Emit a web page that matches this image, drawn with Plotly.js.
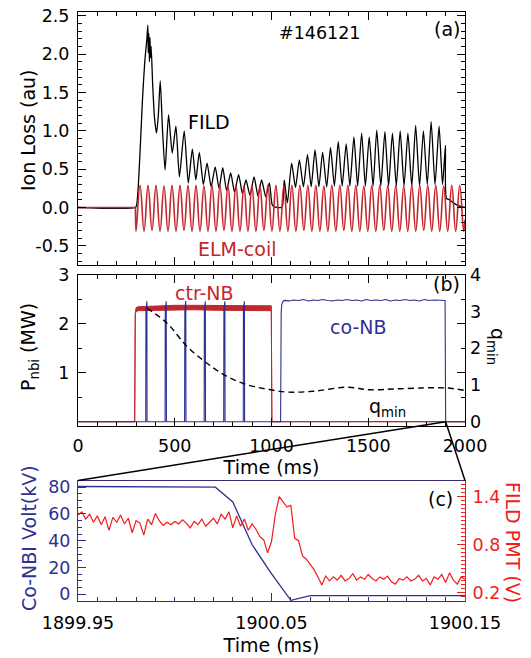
<!DOCTYPE html>
<html><head><meta charset="utf-8">
<script src="https://cdn.plot.ly/plotly-3.0.1.min.js"></script>
<style>html,body{margin:0;padding:0;background:#fff}#chart{width:531px;height:658px}</style>
</head><body><div id="chart"></div>
<script>
// ---------- Panel (a): ion loss ----------
const fildT = [0,296,303,312,322,333,345,356,361,363,366,369,372,375,378,386,396,406,415,425,437,450,468,487,506,524,549,570,591,609,627,648,667,688,709,729,748,768,789,809,830,850,868,889,910,930,949,970,989,1003,1012,1050,1057,1066,1082,1104,1124,1144,1165,1186,1205,1225,1245,1264,1285,1305,1325,1345,1365,1386,1405,1426,1445,1466,1485,1505,1525,1544,1565,1586,1605,1625,1645,1665,1685,1705,1725,1745,1765,1785,1805,1825,1845,1866,1884,1899,1904,1920,1940,1960,1980,2000];
const fildV = [0,0,0.03,0.3,0.8,1.4,1.9,2.2,2.38,2.02,2.27,1.9,2.22,1.95,2.1,1.6,1.15,0.97,1.2,1.65,1.0,0.49,1.21,0.71,1.06,0.40,1.0,0.32,0.76,0.36,0.72,0.30,0.58,0.27,0.53,0.25,0.52,0.22,0.45,0.20,0.43,0.18,0.36,0.16,0.40,0.15,0.36,0.14,0.32,0.04,0.01,0.0,0.02,0.36,0.06,0.58,0.26,0.62,0.27,0.69,0.27,0.75,0.27,0.72,0.27,0.78,0.28,0.86,0.28,0.83,0.28,0.92,0.28,0.97,0.28,0.92,0.28,1.01,0.28,0.99,0.28,0.97,0.28,1.0,0.28,0.97,0.28,1.07,0.28,1.0,0.30,1.12,0.30,1.06,0.30,0.81,0.12,0.10,0.06,0.03,0.01,0.0];
const coilT = [0,297,300,320.7,341.3,362,382.6,403.3,423.9,444.6,465.2,485.9,506.5,527.2,547.8,568.5,589.1,609.8,630.4,651.1,671.7,692.4,713,733.7,754.3,775,795.6,816.3,836.9,857.6,878.2,898.9,919.5,940.2,960.8,981.5,1002.1,1022.8,1043.4,1064.1,1084.7,1105.4,1126,1146.7,1167.3,1188,1208.6,1229.3,1249.9,1270.6,1291.2,1311.9,1332.5,1353.2,1373.8,1394.5,1415.1,1435.8,1456.4,1477.1,1497.7,1518.4,1539,1559.7,1580.3,1601,1621.6,1642.3,1662.9,1683.6,1704.2,1724.9,1745.5,1766.2,1786.8,1807.5,1828.1,1848.8,1869.4,1890.1,1910.7,1931.4,1952,1972.7,1993.3,2000];
const coilV = [0,0,-0.31,0.29,-0.31,0.29,-0.30,0.29,-0.31,0.28,-0.31,0.29,-0.31,0.29,-0.30,0.29,-0.31,0.29,-0.31,0.28,-0.31,0.29,-0.31,0.29,-0.30,0.29,-0.31,0.29,-0.31,0.28,-0.31,0.29,-0.31,0.29,-0.30,0.29,-0.31,0.29,-0.31,0.28,-0.31,0.29,-0.31,0.29,-0.30,0.29,-0.31,0.29,-0.31,0.28,-0.31,0.29,-0.31,0.29,-0.30,0.29,-0.31,0.29,-0.31,0.28,-0.31,0.29,-0.31,0.29,-0.30,0.29,-0.31,0.29,-0.31,0.28,-0.31,0.29,-0.31,0.29,-0.30,0.29,-0.31,0.29,-0.31,0.28,-0.31,0.29,-0.31,0.29,-0.31,-0.16];
const ionTickVals = [-0.5,0,0.5,1,1.5,2,2.5];
const ionTickText = ['-0.5','0.0','0.5','1.0','1.5','2.0','2.5'];

// ---------- Panel (b): beam power and q_min ----------
const ctrT  = [0,293,296,300,310,400,500,600,700,800,900,995,999,1002,2000];
const ctrLo = [0,0,2.20,2.25,2.27,2.28,2.28,2.29,2.28,2.28,2.28,2.28,2.27,0,0];
const ctrHi = [0,0,2.20,2.33,2.35,2.37,2.38,2.38,2.38,2.38,2.38,2.38,2.37,0,0];
const coT = [0,350,351,356,357,450,451,456,457,551,552,557,558,652,653,658,659,753,754,759,760,854,855,860,861,1047,1050,1053,1058,1065,1090,1115,1140,1165,1190,1215,1240,1265,1290,1315,1340,1365,1390,1415,1440,1465,1490,1515,1540,1565,1590,1615,1640,1665,1690,1715,1740,1765,1790,1815,1840,1865,1897,1900,2000];
const coV = [0,0,2.28,2.46,0,0,2.28,2.46,0,0,2.28,2.47,0,0,2.28,2.46,0,0,2.28,2.46,0,0,2.28,2.46,0,0,2.22,2.40,2.45,2.48,2.47,2.49,2.48,2.50,2.47,2.49,2.48,2.50,2.48,2.47,2.49,2.48,2.50,2.48,2.49,2.47,2.50,2.48,2.49,2.48,2.50,2.47,2.49,2.48,2.50,2.48,2.49,2.47,2.50,2.48,2.49,2.48,2.48,0,0];
const qT = [355,458,562,665,768,872,975,1078,1216,1389,1509,1664,1905,2000];
const qV = [3.10,2.70,2.06,1.60,1.24,1.01,0.89,0.81,0.83,0.94,0.87,0.90,0.92,0.85];

// ---------- Panel (c): zoom near 1900 ms ----------
const voltT = [1899.95,1900.00,1900.021,1900.030,1900.040,1900.0497,1900.060,1900.070,1900.15];
const voltV = [80.5,80.2,80,69,37,16,-4.5,-1,-1];
const pmtT = [1899.950,1899.952,1899.954,1899.956,1899.958,1899.960,1899.962,1899.964,1899.966,1899.968,1899.970,1899.972,1899.974,1899.976,1899.978,1899.980,1899.982,1899.984,1899.986,1899.988,1899.990,1899.992,1899.994,1899.996,1899.998,1900.000,1900.002,1900.004,1900.006,1900.008,1900.010,1900.012,1900.014,1900.016,1900.018,1900.020,1900.022,1900.024,1900.026,1900.028,1900.030,1900.032,1900.034,1900.036,1900.038,1900.040,1900.042,1900.044,1900.046,1900.048,1900.050,1900.052,1900.054,1900.056,1900.058,1900.060,1900.062,1900.064,1900.066,1900.068,1900.070,1900.072,1900.074,1900.076,1900.078,1900.080,1900.082,1900.084,1900.086,1900.088,1900.090,1900.092,1900.094,1900.096,1900.098,1900.100,1900.102,1900.104,1900.106,1900.108,1900.110,1900.112,1900.114,1900.116,1900.118,1900.120,1900.122,1900.124,1900.126,1900.128,1900.130,1900.132,1900.134,1900.136,1900.138,1900.140,1900.142,1900.144,1900.146,1900.148,1900.150];
const pmtV = [1.17,1.21,1.12,1.18,1.08,1.16,1.05,1.15,0.98,1.14,1.08,1.17,1.06,1.13,0.95,1.10,1.07,0.92,1.12,1.05,1.19,1.10,1.04,1.08,1.05,1.09,1.06,1.11,1.07,1.01,1.09,1.05,1.12,1.03,1.08,1.13,1.06,1.18,1.12,1.21,1.01,1.16,1.03,1.12,0.98,1.06,0.99,0.90,0.86,0.70,0.84,1.18,1.40,1.33,1.27,1.29,0.88,0.85,0.66,0.62,0.55,0.49,0.40,0.30,0.41,0.35,0.40,0.36,0.42,0.35,0.38,0.44,0.36,0.40,0.37,0.43,0.38,0.35,0.40,0.37,0.41,0.34,0.31,0.38,0.36,0.40,0.35,0.37,0.42,0.35,0.38,0.30,0.40,0.37,0.43,0.33,0.45,0.36,0.31,0.40,0.37];
const zoomTimeTicks = [1899.95,1900.05,1900.15];
const zoomTimeText = ['1899.95','1900.05','1900.15'];

// ---------- colours / geometry ----------
const RED = '#c1272d', NAVY = '#2e3192', BRIGHT = '#f21c1c', PURPLE = '#3b2a6e';
const W = 531, H = 658, ML = 78, MR = 66, MT = 12, MB = 57;
function dom(top, bot){ const h = H - MT - MB; return [(H - MB - bot)/h, (H - MB - top)/h]; }
function pxX(px){ return (px - ML)/(W - ML - MR); }
function pxY(py){ return (H - MB - py)/(H - MT - MB); }
const domA = dom(12, 265), domB = dom(275, 426), domC = dom(480.5, 601);
const FAM = 'DejaVu Sans, Liberation Sans, Arial, sans-serif';
const FONT = {family: FAM, size: 17.5, color: '#000'};   // tick labels
const TFONT = {family: FAM, size: 19, color: '#000'};    // titles and labels
const rangeA = [-0.75, 2.55], rangeB = [-0.088, 3.0], rangeQ = [-0.117, 4.0];
const rangeT = [0, 2000];
function col(c, base){ return Object.assign({}, base || TFONT, {color: c}); }
function sideTitle(text, x, y, angle, color){
  return {xref: 'paper', yref: 'paper', x: pxX(x), y: pxY(y), xanchor: 'center', yanchor: 'middle',
    text: text, textangle: angle, showarrow: false, font: col(color)};
}
function label(text, xref, yref, x, y, color, anchor, base){
  return {xref: xref, yref: yref, x: x, y: y, text: text, showarrow: false, xanchor: anchor || 'center',
    font: col(color, base)};
}

// the ELM-coil record: flat part before the coil turns on, then the oscillation
const coilOn = 1;
const traces = [
  {x: fildT, y: fildV, xaxis: 'x', yaxis: 'y', mode: 'lines', line: {color: '#000', width: 1.3, shape: 'spline', smoothing: 0.6}},
  {x: coilT.slice(0, coilOn + 1), y: coilV.slice(0, coilOn + 1), xaxis: 'x', yaxis: 'y', mode: 'lines', line: {color: RED, width: 1.6}},
  {x: coilT.slice(coilOn), y: coilV.slice(coilOn), xaxis: 'x', yaxis: 'y', mode: 'lines', line: {color: RED, width: 1.6, shape: 'spline', smoothing: 1.2}},
  {x: ctrT, y: ctrLo, xaxis: 'x2', yaxis: 'y2', mode: 'lines', line: {color: RED, width: 1}},
  {x: ctrT, y: ctrHi, xaxis: 'x2', yaxis: 'y2', mode: 'lines', line: {color: RED, width: 1}, fill: 'tonexty', fillcolor: RED},
  {x: coT, y: coV, xaxis: 'x2', yaxis: 'y2', mode: 'lines', line: {color: NAVY, width: 1.1}},
  {x: qT, y: qV, xaxis: 'x2', yaxis: 'y3', mode: 'lines', line: {color: '#000', width: 1.4, dash: '6px,4px', shape: 'spline', smoothing: 1}},
  {x: pmtT, y: pmtV, xaxis: 'x3', yaxis: 'y5', mode: 'lines', line: {color: BRIGHT, width: 1.2}},
  {x: voltT, y: voltV, xaxis: 'x3', yaxis: 'y4', mode: 'lines', line: {color: NAVY, width: 1.3}}
];

const baseAx = {showgrid: false, zeroline: false, showline: true, linecolor: '#000', linewidth: 1,
  ticks: 'inside', tickcolor: '#000', ticklen: 8, tickwidth: 1, tickfont: FONT, automargin: false};

const layout = {
  width: W, height: H, margin: {l: ML, r: MR, t: MT, b: MB},
  paper_bgcolor: '#fff', plot_bgcolor: '#fff', showlegend: false, font: FONT,
  xaxis: Object.assign({}, baseAx, {domain: [0,1], anchor: 'y', range: rangeT, dtick: 500, tick0: 0,
    showticklabels: false, mirror: 'ticks', minor: {dtick: 100, ticklen: 4, ticks: 'inside', tickcolor: '#000'}}),
  yaxis: Object.assign({}, baseAx, {domain: domA, anchor: 'x', range: rangeA, tickvals: ionTickVals, ticktext: ionTickText,
    mirror: 'ticks', ticklabelstandoff: 4, minor: {dtick: 0.1, tick0: 0, ticklen: 4, ticks: 'inside', tickcolor: '#000'}}),
  xaxis2: Object.assign({}, baseAx, {domain: [0,1], anchor: 'y2', range: rangeT, dtick: 500, tick0: 0,
    mirror: 'ticks', ticklabelstandoff: 4, minor: {dtick: 100, ticklen: 4, ticks: 'inside', tickcolor: '#000'},
    title: {text: 'Time (ms)', font: TFONT, standoff: 2}}),
  yaxis2: Object.assign({}, baseAx, {domain: domB, anchor: 'x2', range: rangeB, tickvals: [1,2,3],
    mirror: 'ticks', ticklabelstandoff: 4, minor: {tickvals: [0.5,1.5,2.5], ticklen: 4, ticks: 'inside', tickcolor: '#000'}}),
  yaxis3: {overlaying: 'y2', side: 'right', anchor: 'x2', range: rangeQ, tickvals: [0,1,2,3,4],
    showgrid: false, zeroline: false, showline: false, ticks: '', tickfont: FONT, ticklabelstandoff: 4},
  xaxis3: Object.assign({}, baseAx, {domain: [0,1], anchor: 'y4', range: [1899.95, 1900.15],
    tickvals: zoomTimeTicks, ticktext: zoomTimeText, linecolor: PURPLE, tickcolor: PURPLE, mirror: true,
    ticklabelstandoff: 6,
    minor: {dtick: 0.01, tick0: 1899.95, ticklen: 4, ticks: 'inside', tickcolor: PURPLE},
    title: {text: 'Time (ms)', font: TFONT, standoff: 6}}),
  yaxis4: Object.assign({}, baseAx, {domain: domC, anchor: 'x3', range: [-5, 85], dtick: 20, tick0: 0,
    linecolor: NAVY, tickcolor: NAVY, tickfont: col(NAVY, FONT), ticklabelstandoff: 3,
    minor: {dtick: 5, tick0: 0, ticklen: 4, ticks: 'inside', tickcolor: NAVY}}),
  yaxis5: Object.assign({}, baseAx, {overlaying: 'y4', side: 'right', anchor: 'x3', range: [0.1, 1.6],
    tickvals: [0.2, 0.8, 1.4], ticktext: ['0.2','0.8','1.4'], linecolor: BRIGHT, tickcolor: BRIGHT,
    tickfont: col(BRIGHT, FONT), ticklabelstandoff: 3,
    minor: {dtick: 0.05, tick0: 0.1, ticklen: 4, ticks: 'inside', tickcolor: BRIGHT}}),
  annotations: [
    sideTitle('Ion Loss (au)', 28, 130, -90, '#000'),
    sideTitle('P<sub>nbi</sub> (MW)', 30, 347, -90, '#000'),
    sideTitle('q<sub>min</sub>', 497, 346, 90, '#000'),
    sideTitle('Co-NBI Volt(kV)', 29, 538, -90, NAVY),
    sideTitle('FILD PMT (V)', 513, 542, 90, BRIGHT),
    label('#146121', 'x', 'y', 1248, 2.27, '#000', 'center', FONT),
    label('(a)', 'x', 'y', 1985, 2.33, '#000', 'right'),
    label('FILD', 'x', 'y', 677, 1.12, '#000'),
    label('ELM-coil', 'x', 'y', 824, -0.54, RED),
    label('(b)', 'x2', 'y2', 1984, 2.82, '#000', 'right'),
    label('ctr-NB', 'x2', 'y2', 656, 2.63, RED),
    label('co-NB', 'x2', 'y2', 1449, 1.93, NAVY),
    label('q<sub>min</sub>', 'x2', 'y2', 1602, 0.30, '#000'),
    label('(c)', 'x3', 'y4', 1900.1448, 71, '#000', 'right')
  ],
  shapes: (function(){
    const tZoom = 1900;
    const px = (tZoom - rangeT[0])/(rangeT[1] - rangeT[0]);
    const py = domB[0] + (0 - rangeB[0])/(rangeB[1] - rangeB[0])*(domB[1] - domB[0]);
    return [
      {type: 'line', xref: 'paper', yref: 'paper', x0: px, y0: py, x1: 0, y1: domC[1], line: {color: '#000', width: 1.5}},
      {type: 'line', xref: 'paper', yref: 'paper', x0: px, y0: py, x1: 1, y1: domC[1], line: {color: '#000', width: 1.5}}
    ];
  })()
};

Plotly.newPlot('chart', traces, layout, {staticPlot: true, displayModeBar: false});
</script></body></html>
